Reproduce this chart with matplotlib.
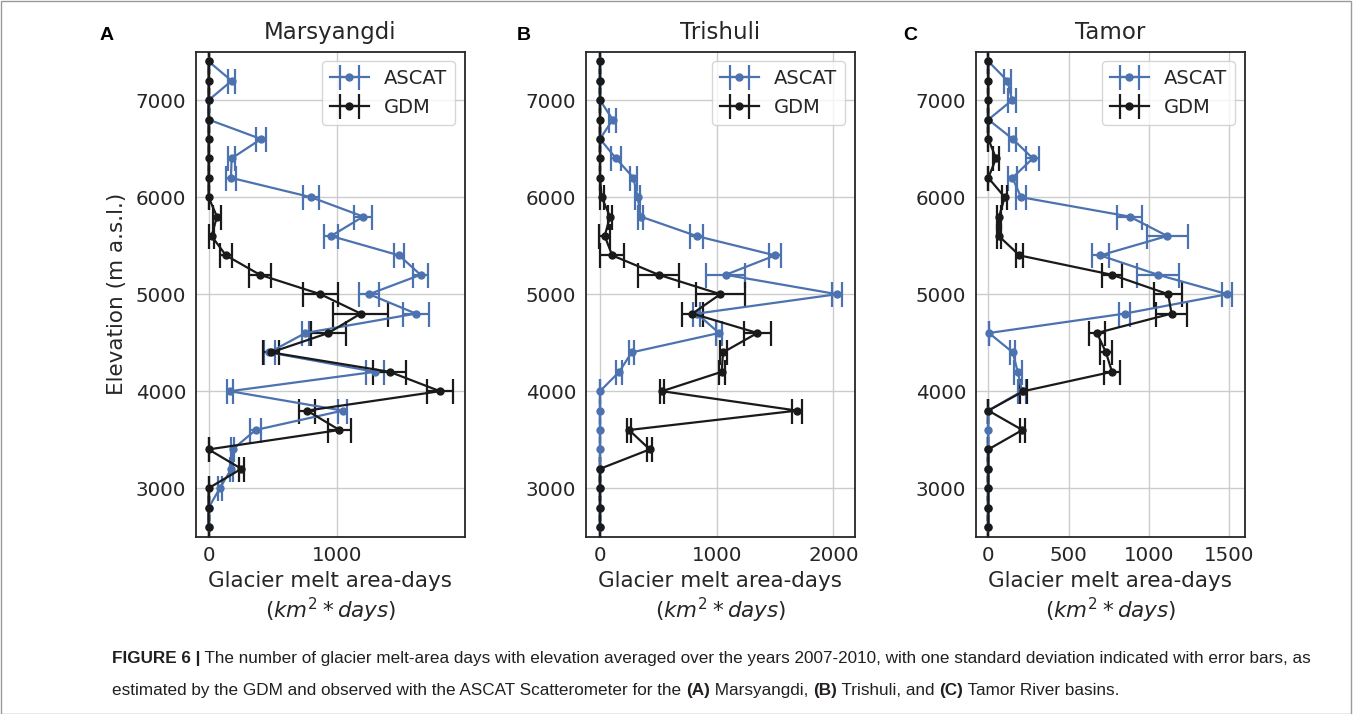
import matplotlib
matplotlib.use("Agg")
import matplotlib.pyplot as plt
from matplotlib.patches import Rectangle

# elevation bands (m a.s.l.), top to bottom
elev = [7400, 7200, 7000, 6800, 6600, 6400, 6200, 6000, 5800, 5600, 5400, 5200, 5000,
        4800, 4600, 4400, 4200, 4000, 3800, 3600, 3400, 3200, 3000, 2800, 2600]

basins = ["Marsyangdi", "Trishuli", "Tamor"]
letters = ["A", "B", "C"]

# Marsyangdi
ascat_a = [0, 179, 0, 0, 408, 179, 174, 797, 1203, 953, 1483, 1649, 1249,
           1613, 753, 473, 1294, 166, 1044, 366, 187, 177, 88, 0, 0]
ascat_a_err = [0, 29, 0, 0, 39, 29, 39, 61, 69, 57, 38, 56, 79,
               100, 29, 40, 73, 20, 36, 40, 13, 13, 17, 0, 0]
gdm_a = [0, 0, 0, 0, 0, 0, 0, 0, 65, 23, 135, 400, 870,
         1184, 932, 486, 1408, 1800, 766, 1018, 0, 255, 0, 0, 0]
gdm_a_err = [0, 0, 0, 0, 0, 0, 0, 0, 31, 18, 47, 88, 136,
             215, 135, 60, 130, 99, 60, 90, 0, 19, 0, 0, 0]

# Trishuli
ascat_b = [0, 0, 0, 109, 0, 137, 286, 323, 349, 827, 1501, 1077, 2031,
           830, 1020, 271, 165, 0, 0, 0, 0, 0, 0, 0, 0]
ascat_b_err = [0, 0, 0, 29, 0, 41, 31, 23, 21, 57, 54, 167, 43,
               30, 26, 21, 26, 0, 0, 0, 0, 0, 0, 0, 0]
gdm_b = [0, 0, 0, 0, 0, 0, 0, 14, 86, 40, 105, 503, 1031,
         792, 1348, 1054, 1043, 531, 1689, 249, 426, 0, 0, 0, 0]
gdm_b_err = [0, 0, 0, 0, 0, 0, 0, 17, 19, 46, 104, 177, 211,
             93, 118, 30, 24, 20, 43, 19, 21, 0, 0, 0, 0]

# Tamor
ascat_c = [0, 119, 148, 0, 152, 277, 150, 204, 881, 1115, 698, 1058, 1490,
           850, 4, 152, 183, 210, 0, 0, 0, 0, 0, 0, 0]
ascat_c_err = [0, 23, 26, 0, 23, 40, 26, 31, 78, 127, 52, 130, 31,
               33, 0, 14, 24, 25, 0, 0, 0, 0, 0, 0, 0]
gdm_c = [0, 0, 0, 0, 0, 48, 0, 102, 67, 65, 194, 771, 1121,
         1142, 677, 733, 771, 219, 0, 212, 0, 0, 0, 0, 0]
gdm_c_err = [0, 0, 0, 0, 0, 16, 0, 14, 14, 14, 21, 65, 86,
             96, 52, 40, 50, 22, 0, 14, 0, 0, 0, 0, 0]

ascat = [ascat_a, ascat_b, ascat_c]
ascat_err = [ascat_a_err, ascat_b_err, ascat_c_err]
gdm = [gdm_a, gdm_b, gdm_c]
gdm_err = [gdm_a_err, gdm_b_err, gdm_c_err]

xticks = [[0, 1000], [0, 1000, 2000], [0, 500, 1000, 1500]]
xlims = [(-98, 1995), (-120, 2185), (-77, 1600)]

plt.rcParams["font.family"] = "DejaVu Sans"
plt.rcParams["text.color"] = "#262626"
plt.rcParams["xtick.color"] = "#262626"
plt.rcParams["ytick.color"] = "#262626"
plt.rcParams["axes.labelcolor"] = "#262626"

W, H = 1357, 714
fig = plt.figure(figsize=(W / 100, H / 100), dpi=100)
fig.patch.set_facecolor("white")

blue = "#4C72B0"
dark = "#1a1a1a"
lefts = [196, 586, 976]
for i in range(3):
    ax = fig.add_axes([lefts[i] / W, 1 - 536.7 / H, 269 / W, 485 / H])
    ax.errorbar(ascat[i], elev, xerr=ascat_err[i], color=blue, marker="o", ms=5,
                lw=1.6, elinewidth=1.6, capsize=9, capthick=1.6, label="ASCAT")
    ax.errorbar(gdm[i], elev, xerr=gdm_err[i], color=dark, marker="o", ms=5,
                lw=1.6, elinewidth=1.6, capsize=9, capthick=1.6, label="GDM")
    ax.set_ylim(2500, 7500)
    ax.set_xlim(*xlims[i])
    ax.set_yticks([3000, 4000, 5000, 6000, 7000])
    ax.set_xticks(xticks[i])
    ax.grid(True, color="#cccccc", lw=1)
    ax.set_axisbelow(True)
    for s in ax.spines.values():
        s.set_color("#262626")
        s.set_linewidth(1.3)
    ax.tick_params(labelsize=14.3, length=0, pad=7)
    ax.set_title(basins[i], fontsize=16.5, pad=9)
    ax.set_xlabel("Glacier melt area-days\n($km^2*days$)", fontsize=15.5, labelpad=4)
    if i == 0:
        ax.set_ylabel("Elevation (m a.s.l.)", fontsize=15.5, labelpad=6)
    ax.legend(loc="upper right", fontsize=14, frameon=True, fancybox=True,
              edgecolor="#cccccc", borderpad=0.4, handlelength=2.0)

# panel letters
for x, lt in zip([100, 517, 903], letters):
    fig.text(x / W, 1 - 35 / H, lt, fontsize=14, fontweight="bold",
             family="Liberation Sans", color="black", va="center", ha="left")

# caption
renderer = fig.canvas.get_renderer()
cap_font = ["Liberation Sans", "DejaVu Sans"]


def put_line(pieces, x0, y):
    x = x0
    for txt, bold in pieces:
        t = fig.text(x / W, 1 - y / H, txt, fontsize=12.3, family=cap_font,
                     fontweight="bold" if bold else "normal", color="#231f20",
                     va="baseline", ha="left")
        bb = t.get_window_extent(renderer)
        x = bb.x1


put_line([("FIGURE 6 |", True),
          (" The number of glacier melt-area days with elevation averaged over the years "
           "2007-2010, with one standard deviation indicated with error bars, as", False)],
         112, 663)
put_line([("estimated by the GDM and observed with the ASCAT Scatterometer for the ", False),
          ("(A)", True), (" Marsyangdi, ", False), ("(B)", True),
          (" Trishuli, and ", False), ("(C)", True), (" Tamor River basins.", False)],
         112, 695)

# outer frame
fig.patches.append(Rectangle((1 / W, 0.5 / H), 1350 / W, 1 - 1.5 / H, transform=fig.transFigure,
                             fill=False, edgecolor="#9a9a9a", lw=1))

fig.savefig("out.png", dpi=100)
